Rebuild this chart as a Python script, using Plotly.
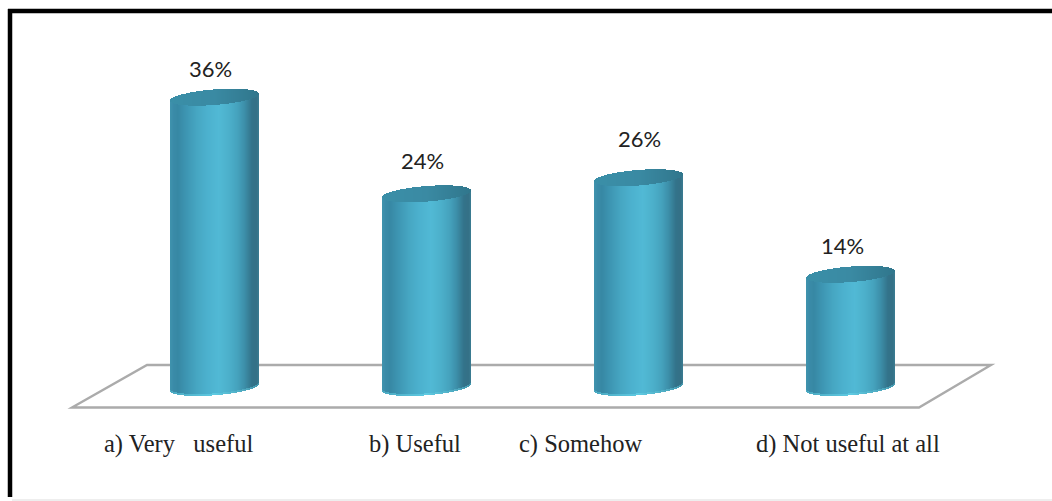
import numpy as np
import plotly.graph_objects as go

# Survey responses
categories = ["a) Very\u00a0\u00a0\u00a0useful", "b) Useful", "c) Somehow", "d) Not useful at all"]
percent = [36, 24, 26, 14]

W, H = 1052, 501
BASE_PX = 387.0      # pixel row of value 0
PX_PER_UNIT = 8.05   # vertical pixels per percentage point
X0_PX = 214.5        # pixel column of the first cylinder
STEP_PX = 212.0      # pixels between cylinders
BAR_PX = 89          # cylinder width
TILT = 3.4 / PX_PER_UNIT      # rise of the ellipse from centre to right edge
RY = 7.8 / PX_PER_UNIT        # half height of the ellipse
RIM = 1.5 / PX_PER_UNIT       # pale rim along the foot of each cylinder

# Shading across the cylinder, left to right
stops = [0, 0.04, 0.09, 0.18, 0.3, 0.42, 0.55, 0.66, 0.76, 0.84, 0.92, 0.97, 1]
reds = [0x40, 0x3A, 0x37, 0x3D, 0x46, 0x4C, 0x51, 0x4C, 0x45, 0x3C, 0x33, 0x34, 0x3A]
greens = [0x93, 0x8B, 0x88, 0x95, 0xA6, 0xB1, 0xB9, 0xB0, 0xA2, 0x8E, 0x73, 0x70, 0x7C]
blues = [0xAE, 0xA8, 0xA4, 0xB2, 0xC2, 0xCE, 0xD5, 0xCB, 0xBD, 0xA8, 0x8A, 0x86, 0x92]

cap_stops = [0, 0.5, 1]
cap_r = [0x3A, 0x3A, 0x30]
cap_g = [0x8F, 0x8A, 0x76]
cap_b = [0xA8, 0xA3, 0x8C]

rim_stops = [0, 0.5, 1]
rim_r = [0x4A, 0x5E, 0x45]
rim_g = [0xA8, 0xCA, 0x98]
rim_b = [0xC0, 0xE2, 0xAE]


def ramp(u, s, r, g, b):
    return [f"rgb({np.interp(a, s, r):.0f},{np.interp(a, s, g):.0f},{np.interp(a, s, b):.0f})" for a in u]


fig = go.Figure()
strip = 1 / STEP_PX
offsets = (np.arange(BAR_PX) + 0.5 - BAR_PX / 2) / STEP_PX
t = (np.arange(BAR_PX) + 0.5) / BAR_PX * 2 - 1
arc = np.sqrt(1 - t ** 2)
tilt = TILT * t
u = (t + 1) / 2

for i, v in enumerate(percent):
    xs = i + offsets
    # Body: 1 px strips running from the lower rim up to the centre of the top ellipse
    fig.add_bar(
        x=xs,
        base=tilt - RY * arc,
        y=v + RY * arc,
        width=strip,
        marker=dict(color=ramp(u, stops, reds, greens, blues), line_width=0),
        hoverinfo="skip",
        showlegend=False,
    )
    # Pale rim at the foot
    fig.add_bar(
        x=xs,
        base=tilt - RY * arc,
        y=np.full(BAR_PX, RIM),
        width=strip,
        marker=dict(color=ramp(u, rim_stops, rim_r, rim_g, rim_b), line_width=0),
        hoverinfo="skip",
        showlegend=False,
    )
    # Top cap
    fig.add_bar(
        x=xs,
        base=v + tilt - RY * arc,
        y=2 * RY * arc,
        width=strip,
        marker=dict(color=ramp(u, cap_stops, cap_r, cap_g, cap_b), line_width=0),
        hoverinfo="skip",
        showlegend=False,
    )


def px(x):
    return x / W


def py(y):
    return 1 - y / H


shapes = [
    # Floor outline
    dict(type="path", xref="paper", yref="paper", layer="below",
         path="M {:.5f} {:.5f} L {:.5f} {:.5f} L {:.5f} {:.5f} L {:.5f} {:.5f} Z".format(
             px(72), py(407.5), px(147), py(365), px(991), py(365), px(919), py(407.5)),
         line=dict(color="#ABABAB", width=2.4)),
    # Outer frame: top and left rules, hairline at the foot
    dict(type="line", xref="paper", yref="paper", x0=px(8), x1=1, y0=py(11), y1=py(11),
         line=dict(color="#000000", width=4.5)),
    dict(type="line", xref="paper", yref="paper", x0=px(10), x1=px(10), y0=py(9), y1=py(497),
         line=dict(color="#000000", width=4.5)),
    dict(type="line", xref="paper", yref="paper", x0=px(12), x1=1, y0=py(500), y1=py(500),
         line=dict(color="#DDDDDD", width=1)),
]

# Value labels sit above each cap; nudges in pixels
label_dx = [-4.5, -4.5, 0.5, -8.5]
label_dy = [28.5, 33.5, 39.5, 29]
annotations = []
for i, v in enumerate(percent):
    annotations.append(dict(
        x=i, y=v, xref="x", yref="y", text=f"{v}%", showarrow=False,
        xshift=label_dx[i], yshift=label_dy[i], xanchor="center", yanchor="middle",
        font=dict(family="Lato, Carlito, sans-serif", size=22, color="#222222"),
    ))

# Category captions below the floor
caption_px = [178, 415, 580, 848]
for name, cx in zip(categories, caption_px):
    annotations.append(dict(
        x=px(cx), y=py(444), xref="paper", yref="paper", text=name, showarrow=False,
        xanchor="center", yanchor="middle",
        font=dict(family="Liberation Serif, serif", size=24.5, color="#222222"),
    ))

fig.update_layout(
    width=W, height=H,
    margin=dict(l=0, r=0, t=0, b=0),
    paper_bgcolor="white", plot_bgcolor="rgba(0,0,0,0)",
    barmode="overlay", bargap=0,
    shapes=shapes, annotations=annotations,
    xaxis=dict(range=[-X0_PX / STEP_PX, (W - X0_PX) / STEP_PX], visible=False, fixedrange=True),
    yaxis=dict(range=[(BASE_PX - H) / PX_PER_UNIT, BASE_PX / PX_PER_UNIT], visible=False, fixedrange=True),
    showlegend=False,
)
fig.write_html("out.html", config={"displayModeBar": False})
